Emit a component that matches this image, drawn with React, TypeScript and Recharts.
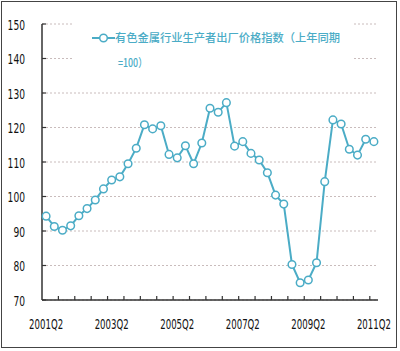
import React from 'react';
import { LineChart, Line, XAxis, YAxis, CartesianGrid } from 'recharts';

const quarters = [
  '2001Q2', '2001Q3', '2001Q4', '2002Q1', '2002Q2', '2002Q3', '2002Q4', '2003Q1',
  '2003Q2', '2003Q3', '2003Q4', '2004Q1', '2004Q2', '2004Q3', '2004Q4', '2005Q1',
  '2005Q2', '2005Q3', '2005Q4', '2006Q1', '2006Q2', '2006Q3', '2006Q4', '2007Q1',
  '2007Q2', '2007Q3', '2007Q4', '2008Q1', '2008Q2', '2008Q3', '2008Q4', '2009Q1',
  '2009Q2', '2009Q3', '2009Q4', '2010Q1', '2010Q2', '2010Q3', '2010Q4', '2011Q1',
  '2011Q2',
];

const priceIndex = [
  94.3, 91.3, 90.2, 91.5, 94.4, 96.5, 99.0, 102.2,
  104.8, 105.7, 109.5, 114.0, 120.8, 119.6, 120.5, 112.2,
  111.2, 114.7, 109.5, 115.5, 125.6, 124.4, 127.2, 114.6,
  115.9, 112.5, 110.6, 106.9, 100.4, 97.8, 80.3, 75.0,
  75.8, 80.8, 104.3, 122.2, 121.0, 113.7, 112.0, 116.6,
  115.9,
];

const yTicks = [70, 80, 90, 100, 110, 120, 130, 140, 150];
const labelIndexes = [0, 8, 16, 24, 32, 40];
const tickMarkPositions = [
  1.5, 3.5, 5.5, 7.5, 9.5, 11.5, 13.5, 15.5, 17.5, 19.5,
  21.5, 23.5, 25.5, 27.5, 29.5, 31.5, 33.5, 35.5, 37.5, 39.5,
];
const legendLine1 = '有色金属行业生产者出厂价格指数（上年同期';
const legendLine2 = '=100）';

const data = quarters.map((q, i) => ({ idx: i, quarter: q, value: priceIndex[i] }));

const LINE_COLOR = '#4bacc6';
const AXIS_COLOR = '#333';
const FONT = '"Liberation Sans Narrow", "DejaVu Sans Condensed", "Liberation Sans", sans-serif';
const CJK_FONT = '"Noto Sans CJK SC", sans-serif';

const XTick = (props: any) => {
  const { x, y, payload } = props;
  const v = payload.value;
  if (Number.isInteger(v)) {
    return (
      <text
        transform={`translate(${x},${y + 29}) scale(1,1.35)`}
        x={-17}
        y={0}
        textAnchor="start"
        fontFamily={FONT}
        fontSize={11}
        fill="#111"
        textLength={34}
        lengthAdjust="spacingAndGlyphs"
      >
        {quarters[v]}
      </text>
    );
  }
  return <line x1={x} x2={x} y1={y} y2={y - 4} stroke={AXIS_COLOR} strokeWidth={1.2} />;
};

const YTick = (props: any) => {
  const { x, y, payload } = props;
  const label = String(payload.value);
  const w = label.length * 5.8;
  return (
    <g>
      <line x1={x} x2={x + 4} y1={y} y2={y} stroke={AXIS_COLOR} strokeWidth={1.2} />
      <text
        transform={`translate(${x - 17 - w},${y + 5.5}) scale(1,1.3)`}
        x={0}
        y={0}
        textAnchor="start"
        fontFamily={FONT}
        fontSize={11.5}
        fill="#111"
        textLength={w}
        lengthAdjust="spacingAndGlyphs"
      >
        {label}
      </text>
    </g>
  );
};

export default function App() {
  return (
    <div
      style={{
        position: 'absolute',
        left: 0,
        top: 0,
        width: 400,
        height: 351,
        background: '#fff',
        overflow: 'hidden',
      }}
    >
      <LineChart
        width={400}
        height={351}
        data={data}
        margin={{ top: 24, right: 22, bottom: 0, left: 0 }}
      >
        <CartesianGrid vertical={false} stroke="#c9bcbc" strokeDasharray="2 2" />
        <XAxis
          dataKey="idx"
          type="number"
          domain={[-0.5, 40.5]}
          ticks={[...labelIndexes, ...tickMarkPositions].sort((a, b) => a - b)}
          interval={0}
          height={51}
          tickSize={0}
          tickMargin={0}
          tickLine={false}
          tick={<XTick />}
          axisLine={{ stroke: AXIS_COLOR, strokeWidth: 1.5 }}
        />
        <YAxis
          type="number"
          domain={[70, 150]}
          ticks={yTicks}
          interval={0}
          width={42}
          tickSize={0}
          tickMargin={0}
          tickLine={false}
          tick={<YTick />}
          axisLine={{ stroke: AXIS_COLOR, strokeWidth: 1.5 }}
        />
        <Line
          type="linear"
          dataKey="value"
          stroke={LINE_COLOR}
          strokeWidth={2}
          dot={{ r: 3.8, fill: '#fff', stroke: LINE_COLOR, strokeWidth: 1.5 }}
          isAnimationActive={false}
        />
      </LineChart>
      <svg
        style={{ position: 'absolute', left: 73, top: 15 }}
        width={280}
        height={60}
      >
        <rect x={0} y={0} width={280} height={60} fill="#fff" />
        <line x1={19} x2={42} y1={23} y2={23} stroke={LINE_COLOR} strokeWidth={2} />
        <circle cx={30.5} cy={23} r={3.8} fill="#fff" stroke={LINE_COLOR} strokeWidth={1.5} />
        <text
          x={42}
          y={27}
          fontFamily={CJK_FONT}
          fontSize={11.5}
          fontWeight={500}
          fill={LINE_COLOR}
          textLength={225}
          lengthAdjust="spacingAndGlyphs"
        >
          {legendLine1}
        </text>
        <text
          x={45}
          y={52}
          fontFamily={CJK_FONT}
          fontSize={11.5}
          fontWeight={500}
          fill={LINE_COLOR}
          textLength={29}
          lengthAdjust="spacingAndGlyphs"
        >
          {legendLine2}
        </text>
      </svg>
      <div
        style={{
          position: 'absolute',
          left: 1,
          top: 1,
          width: 396,
          height: 347,
          boxSizing: 'border-box',
          border: '1.5px solid #444',
          pointerEvents: 'none',
        }}
      />
    </div>
  );
}
